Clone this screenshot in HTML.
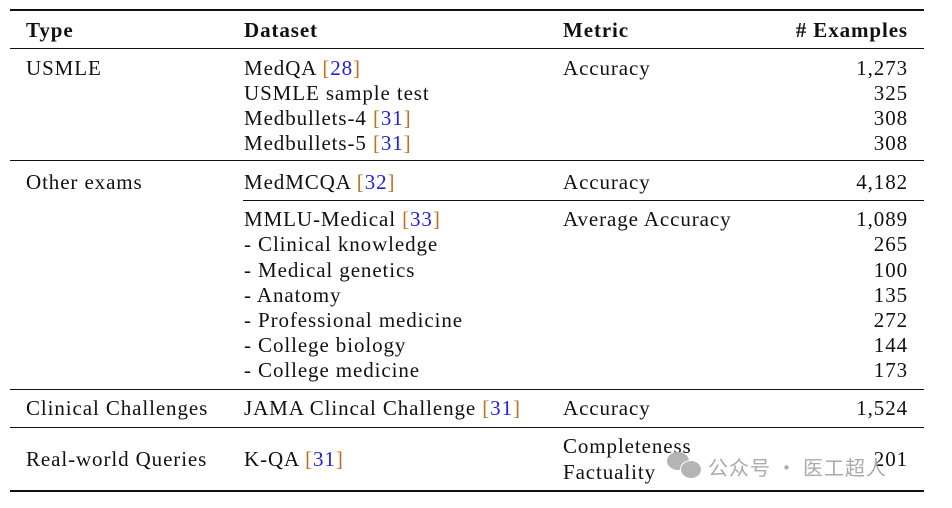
<!DOCTYPE html>
<html><head><meta charset="utf-8"><style>
body{margin:0;width:952px;height:508px;background:#fff;position:relative;overflow:hidden;font-family:"Liberation Serif",serif;font-size:21px;color:#111;letter-spacing:0.9px}
.t{position:absolute;line-height:24px;white-space:nowrap}
.r{position:absolute;text-align:right;right:44px;line-height:24px}
.b{font-weight:bold}
.c{color:#2020e0}
.br{color:#c07020}
.h{position:absolute;background:#111}
</style></head><body>
<div class="h" style="left:10px;top:9px;width:914px;height:2px"></div>
<div class="h" style="left:10px;top:48px;width:914px;height:1px"></div>
<div class="h" style="left:10px;top:160px;width:914px;height:1px"></div>
<div class="h" style="left:243px;top:200px;width:681px;height:1px"></div>
<div class="h" style="left:10px;top:389px;width:914px;height:1px"></div>
<div class="h" style="left:10px;top:427px;width:914px;height:1px"></div>
<div class="h" style="left:10px;top:490px;width:914px;height:2px"></div>

<div class="t b" style="left:26px;top:18px">Type</div>
<div class="t b" style="left:244px;top:18px">Dataset</div>
<div class="t b" style="left:563px;top:18px">Metric</div>
<div class="r b" style="top:18px"># Examples</div>

<div class="t" style="left:26px;top:56px">USMLE</div>
<div class="t" style="left:244px;top:56px">MedQA <span class="br">[</span><span class="c">28</span><span class="br">]</span></div>
<div class="t" style="left:244px;top:81px">USMLE sample test</div>
<div class="t" style="left:244px;top:106px">Medbullets-4 <span class="br">[</span><span class="c">31</span><span class="br">]</span></div>
<div class="t" style="left:244px;top:131px">Medbullets-5 <span class="br">[</span><span class="c">31</span><span class="br">]</span></div>
<div class="t" style="left:563px;top:56px">Accuracy</div>
<div class="r" style="top:56px">1,273</div>
<div class="r" style="top:81px">325</div>
<div class="r" style="top:106px">308</div>
<div class="r" style="top:131px">308</div>

<div class="t" style="left:26px;top:170px">Other exams</div>
<div class="t" style="left:244px;top:170px">MedMCQA <span class="br">[</span><span class="c">32</span><span class="br">]</span></div>
<div class="t" style="left:563px;top:170px">Accuracy</div>
<div class="r" style="top:170px">4,182</div>

<div class="t" style="left:244px;top:207px">MMLU-Medical <span class="br">[</span><span class="c">33</span><span class="br">]</span></div>
<div class="t" style="left:244px;top:232px">- Clinical knowledge</div>
<div class="t" style="left:244px;top:258px">- Medical genetics</div>
<div class="t" style="left:244px;top:283px">- Anatomy</div>
<div class="t" style="left:244px;top:308px">- Professional medicine</div>
<div class="t" style="left:244px;top:333px">- College biology</div>
<div class="t" style="left:244px;top:358px">- College medicine</div>
<div class="t" style="left:563px;top:207px">Average Accuracy</div>
<div class="r" style="top:207px">1,089</div>
<div class="r" style="top:232px">265</div>
<div class="r" style="top:258px">100</div>
<div class="r" style="top:283px">135</div>
<div class="r" style="top:308px">272</div>
<div class="r" style="top:333px">144</div>
<div class="r" style="top:358px">173</div>

<div class="t" style="left:26px;top:396px">Clinical Challenges</div>
<div class="t" style="left:244px;top:396px">JAMA Clincal Challenge <span class="br">[</span><span class="c">31</span><span class="br">]</span></div>
<div class="t" style="left:563px;top:396px">Accuracy</div>
<div class="r" style="top:396px">1,524</div>

<div class="t" style="left:26px;top:447px">Real-world Queries</div>
<div class="t" style="left:244px;top:447px">K-QA <span class="br">[</span><span class="c">31</span><span class="br">]</span></div>
<div class="t" style="left:563px;top:434px">Completeness</div>
<div class="t" style="left:563px;top:460px">Factuality</div>
<div class="r" style="top:447px">201</div>
<div class="t" style="left:708px;top:455px;font-family:'Noto Sans CJK SC',sans-serif;color:#aaa;font-size:20px;letter-spacing:1px">公众号 · 医工超人</div>
<div style="position:absolute;left:667px;top:452px;width:22px;height:18px;border-radius:50%;background:#b5b5b5"></div>
<div style="position:absolute;left:680px;top:460px;width:20px;height:17px;border-radius:50%;background:#b5b5b5;border:1px solid #fff"></div>
</body></html>
